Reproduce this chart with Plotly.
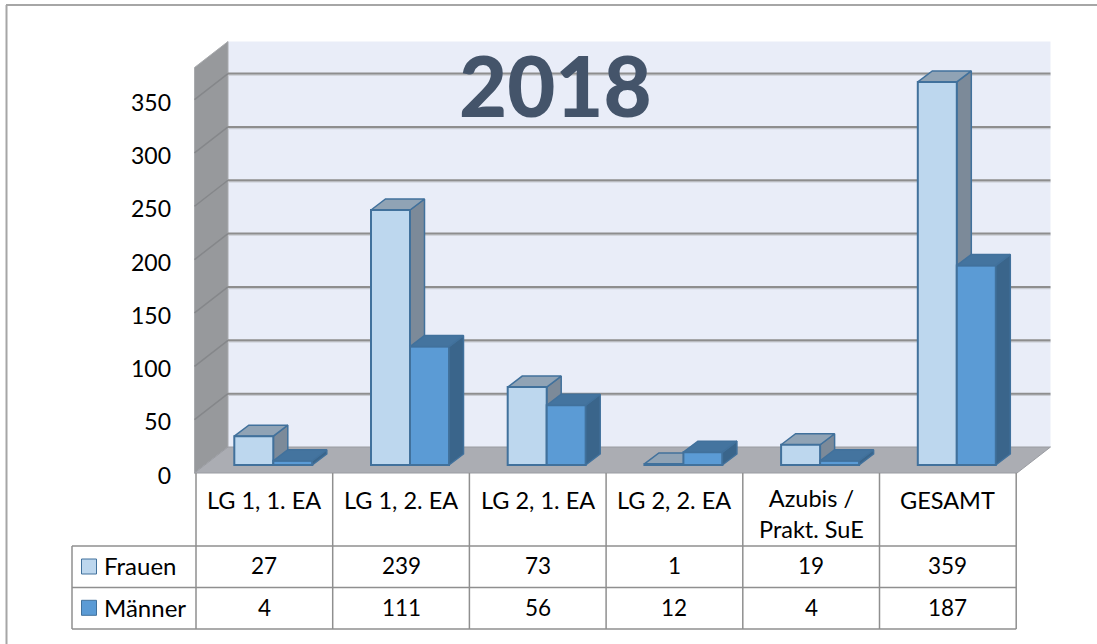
import plotly.graph_objects as go

# ---------- data ----------
categories = ["LG 1, 1. EA", "LG 1, 2. EA", "LG 2, 1. EA", "LG 2, 2. EA", "Azubis /<br>Prakt. SuE", "GESAMT"]
frauen = [27, 239, 73, 1, 19, 359]
maenner = [4, 111, 56, 12, 4, 187]
y_ticks = [0, 50, 100, 150, 200, 250, 300, 350]
title_text = "2018"

# ---------- layout constants (pixels of the 1097x644 page) ----------
W, H = 1097, 644
X0, CW = 196.0, 136.7       # first category edge, category width
Y0, PU = 465.0, 1.067       # bar-plane zero, px per unit
FONT = "Lato"

def xu(px):  # px offset -> category units
    return px / CW
def yu(px):  # px offset -> value units
    return px / PU
def X(px):
    return (px - X0) / CW
def Y(py):
    return (Y0 - py) / PU

XR = [X(0), X(W)]
YR = [Y(H), Y(0)]

BAR_DX, BAR_DY = xu(14.5), yu(11)
BAR_OFF, BAR_W = xu(38.3), xu(39)

C_WALL, C_LEFT, C_FLOOR = "#E9EDF8", "#97999C", "#ABADB3"
C_GRID, C_GRID2 = "#8E8E8E", "#C8CBD2"
C_LINE = "#41719C"
F_FRONT, F_SIDE, F_TOP = "#BDD7EE", "#7C8A99", "#90A3B5"
M_FRONT, M_SIDE, M_TOP = "#5B9BD5", "#3A658B", "#44749F"
C_TABLE = "#8F8F8F"
C_TEXT = "#000000"

fig = go.Figure()

def poly(xs, ys, fill, line=None, lw=0, xa="x", ya="y"):
    fig.add_trace(go.Scatter(
        x=xs + xs[:1], y=ys + ys[:1], mode="lines", fill="toself", fillcolor=fill,
        line=dict(color=line or fill, width=lw if line else 0), hoverinfo="skip",
        showlegend=False, xaxis=xa, yaxis=ya))

# walls and floor
wx0, wx1 = X(228), X(1050.5)
fx0, fx1 = X(194.5), X(1017)
ytop = 380
yb, yf = Y(447), Y(473)
poly([wx0, wx1, wx1, wx0], [yb, yb, yb + ytop, yb + ytop], C_WALL)
poly([fx0, wx0, wx0, fx0], [yf, yb, yb + ytop, yf + ytop], C_LEFT, "#A9ABAE", 1)
poly([fx0, wx0, wx1, fx1], [yf, yb, yb, yf], C_FLOOR, "#9A9CA2", 1)

# gridlines on back and left walls
for t in y_ticks[1:]:
    for col, lw, dy in ((C_GRID2, 1.5, yu(-1.5)), (C_GRID, 2, 0)):
        fig.add_trace(go.Scatter(x=[wx0, wx1], y=[yb + t + dy] * 2, mode="lines",
                                 line=dict(color=col, width=lw), hoverinfo="skip", showlegend=False))
    fig.add_trace(go.Scatter(x=[fx0, wx0], y=[yf + t, yb + t], mode="lines",
                             line=dict(color="#85878A", width=1.5), hoverinfo="skip", showlegend=False))

# depth faces, Frauen on the lower layer, Männer on the upper layer
def faces(values, start, side, top, xa, ya):
    for i, v in enumerate(values):
        l = i + start
        r = l + BAR_W
        poly([r, r + BAR_DX, r + BAR_DX, r], [0, BAR_DY, v + BAR_DY, v], side, C_LINE, 1.5, xa, ya)
        poly([l, r, r + BAR_DX, l + BAR_DX], [v, v, v + BAR_DY, v + BAR_DY], top, C_LINE, 1.5, xa, ya)

faces(frauen, BAR_OFF, F_SIDE, F_TOP, "x", "y")

# front faces
centers = [i + BAR_OFF + BAR_W / 2 for i in range(len(categories))]
fig.add_trace(go.Bar(x=centers, y=frauen, width=BAR_W, name="Frauen",
                     marker=dict(color=F_FRONT, line=dict(color=C_LINE, width=2)),
                     xaxis="x2", yaxis="y2", showlegend=False))
fig.add_trace(go.Bar(x=[c + BAR_W for c in centers], y=maenner, width=BAR_W, name="Männer",
                     marker=dict(color=M_FRONT, line=dict(color=C_LINE, width=2)),
                     xaxis="x2", yaxis="y2", showlegend=False))
faces(maenner, BAR_OFF + BAR_W, M_SIDE, M_TOP, "x2", "y2")

# legend keys in the table
for col, yy in ((F_FRONT, 566.5), (M_FRONT, 607.8)):
    fig.add_trace(go.Scatter(x=[X(89)], y=[Y(yy)], mode="markers", hoverinfo="skip", showlegend=False,
                             marker=dict(symbol="square", size=15, color=col, line=dict(color=C_LINE, width=1)),
                             xaxis="x2", yaxis="y2"))

# front-plane value axis carrying the tick labels
fig.add_trace(go.Scatter(x=[0], y=[0], mode="markers", marker=dict(opacity=0), hoverinfo="skip",
                         showlegend=False, xaxis="x2", yaxis="y3"))

# table lines
shapes = []
def hline(x0, x1, py):
    shapes.append(dict(type="line", xref="x2", yref="y2", x0=X(x0), x1=X(x1), y0=Y(py), y1=Y(py),
                       line=dict(color=C_TABLE, width=1.5)))
def vline(px, y0, y1):
    shapes.append(dict(type="line", xref="x2", yref="y2", x0=X(px), x1=X(px), y0=Y(y0), y1=Y(y1),
                       line=dict(color=C_TABLE, width=1.5)))
for py in (546, 587.5, 629):
    hline(72, X0 + CW * len(categories), py)
vline(72, 546, 629)
for i in range(len(categories) + 1):
    vline(X0 + CW * i, 473, 629)

# page frame: top and left edges only
for x0, x1, y0, y1 in ((6, W, 5, 5), (6.5, 6.5, 5, H)):
    shapes.append(dict(type="line", xref="x2", yref="y2", x0=X(x0), x1=X(x1), y0=Y(y0), y1=Y(y1),
                       line=dict(color="#A6A6A6", width=2), layer="below"))

# annotations
ann = []
def txt(x, py, s, size=22.5, anchor="center", weight=None, color=C_TEXT):
    f = dict(family=FONT, size=size, color=color)
    if weight:
        f["weight"] = weight
    ann.append(dict(x=x, y=Y(py), xref="x2", yref="y2", text=s, showarrow=False, xanchor=anchor,
                    yanchor="middle", font=f, align="center"))
for i, c in enumerate(categories):
    txt(i + 0.5, 513 if "<br>" in c else 500, c, size=23.5)
    txt(i + 0.5, 565.5, str(frauen[i]))
    txt(i + 0.5, 607, str(maenner[i]))
txt(X(101.5), 565.5, "Frauen", size=24, anchor="left")
txt(X(101.5), 607, "Männer", size=24, anchor="left")
txt(X(555.5), 84.5, title_text, size=83, weight=900, color="#44546A")

TZ, TU = 475.5, 1.0646   # tick-label plane: zero and px per unit
hidden = dict(visible=False, fixedrange=True)
fig.update_layout(
    width=W, height=H, margin=dict(l=0, r=0, t=0, b=0),
    paper_bgcolor="white", plot_bgcolor="rgba(0,0,0,0)",
    barmode="overlay", shapes=shapes, annotations=ann, showlegend=False,
    xaxis=dict(range=XR, domain=[0, 1], **hidden),
    yaxis=dict(range=YR, domain=[0, 1], **hidden),
    xaxis2=dict(range=XR, overlaying="x", anchor="y2", **hidden),
    yaxis2=dict(range=YR, overlaying="y", anchor="x2", **hidden),
    yaxis3=dict(range=[(TZ - H) / TU, TZ / TU], overlaying="y", anchor="free", position=171 / W,
                tickmode="array", tickvals=y_ticks, ticktext=[str(t) for t in y_ticks],
                showgrid=False, zeroline=False, showline=False, ticks="", fixedrange=True,
                tickfont=dict(family=FONT, size=23, color=C_TEXT)),
)

fig.write_html("out.html", config=dict(displayModeBar=False),
               post_script="document.body.style.margin='0';document.body.style.overflow='hidden';")
